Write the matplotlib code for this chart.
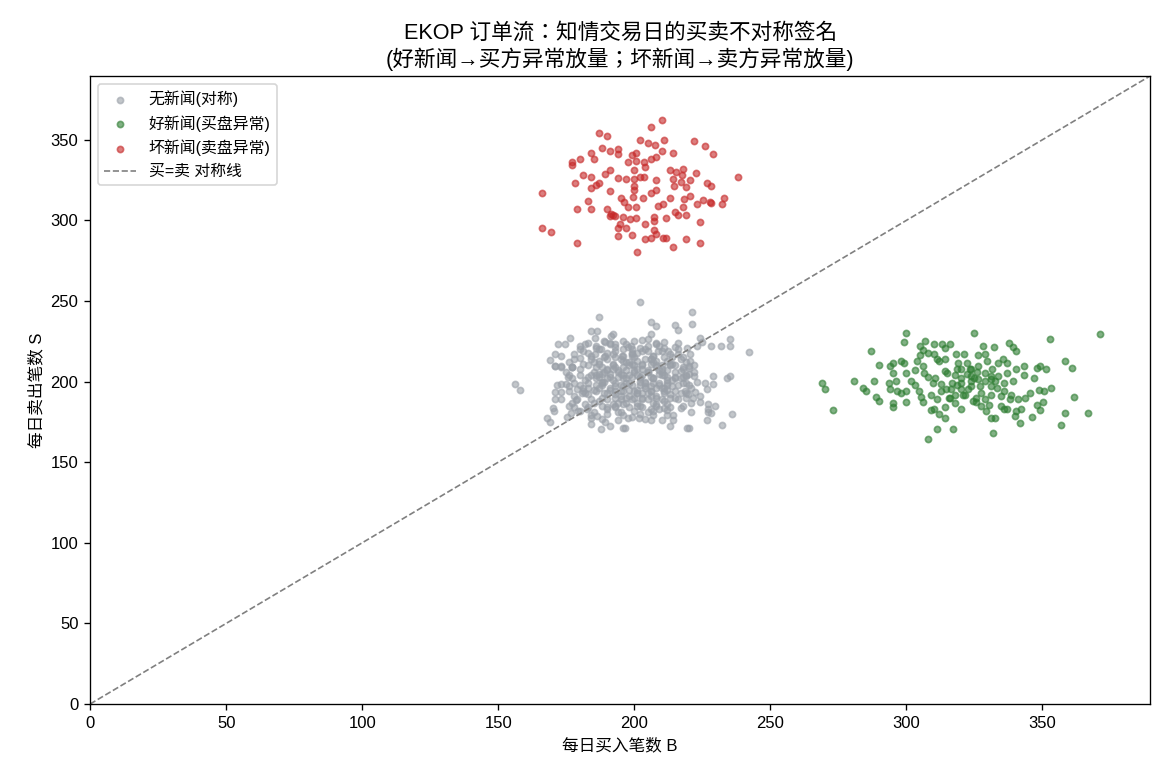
import matplotlib
matplotlib.use("Agg")
import matplotlib.pyplot as plt

plt.rcParams['font.family'] = ['Liberation Sans', 'Noto Sans CJK SC', 'DejaVu Sans']
plt.rcParams['axes.unicode_minus'] = False

# ---------------- data ----------------
# no news: buys B, sells S
gray_B = [187.2, 184.0, 186.2, 185.7, 176.2, 174.4, 172.0, 181.8, 189.1, 191.3, 192.3, 191.1, 192.8,
          170.8, 173.0, 169.1, 170.8, 173.2, 177.1, 180.1, 180.1, 183.0, 185.5, 187.9, 189.1, 195.3, 197.7,
          202.1, 221.2, 221.2, 206.0, 208.0, 214.8, 216.1, 206.0, 205.1, 208.0, 210.9, 216.1, 215.1, 224.2,
          224.9, 228.1, 232.0, 235.2, 235.2, 242.0, 219.2, 220.5, 222.9, 220.5, 220.0, 198.9, 202.1, 208.7,
          212.4, 216.1,
          156.1, 158.0, 170.8, 173.0, 177.1, 171.5, 173.2, 174.9, 175.7, 170.8, 173.2, 170.8, 173.0, 170.0,
          170.3, 167.8, 169.1, 175.9, 178.4, 178.9, 180.8, 175.2, 176.9, 179.3, 182.5, 184.0, 184.0, 187.9,
          189.1, 191.1, 196.0, 186.2,
          220.2, 217.3, 219.0, 222.0, 214.8, 228.8, 225.9, 228.8, 226.8, 233.9, 235.2, 219.0, 218.5, 219.7,
          222.2, 219.0, 221.5, 224.2, 224.2, 221.0, 217.3, 217.8, 227.1, 229.8, 227.1, 227.1, 228.3, 221.0,
          235.9, 214.1, 214.1, 213.1, 219.3, 220.2, 226.8, 232.2, 206.3, 210.9, 211.9, 197.7, 201.9, 196.5,
          214.8,
          180, 186, 193, 199, 205, 211,
          178, 184, 190, 196, 201, 207, 213,
          176, 181, 187, 192, 197, 203, 208, 214, 219,
          175, 180, 185, 190, 195, 200, 205, 210, 215, 220,
          177, 182, 187, 192, 197, 202, 207, 212, 217,
          176, 181, 186, 191, 196, 201, 206, 211, 216, 221,
          178, 183, 188, 193, 198, 203, 208, 213,
          177, 182, 187, 192, 197, 202, 207, 212,
          180, 185, 190, 195, 200, 205, 209,
          188, 194, 199, 204, 210,
          198, 203, 196, 206, 201, 194, 209, 199, 204, 193, 188, 184, 190, 205, 214, 218, 200, 189, 215, 211,
          183, 196, 208,
          181, 187, 193, 199, 204, 210, 216,
          178, 184, 189, 195, 200, 206, 211, 217,
          177, 183, 188, 193, 198, 203, 208, 213, 218, 222,
          176, 180, 186, 191, 196, 201, 206, 210, 215, 219,
          178, 183, 188, 193, 197, 202, 207, 212, 218, 223,
          176, 181, 186, 191, 196, 201, 206, 211, 217,
          179, 184, 190, 195, 200, 205, 210, 216,
          178, 183, 188, 193, 198, 203, 208, 213,
          184, 190, 196, 202, 207, 212,
          186, 192, 197, 203, 209, 185, 190, 196, 201, 207, 212, 218, 183, 188, 194, 199, 204, 209, 214, 220,
          182, 187, 193, 198, 203, 208, 213, 219, 185, 190, 196, 201, 206, 211, 199, 205, 195, 200, 210, 190,
          207, 193, 215, 180, 189, 204, 197, 202, 212, 206, 218, 194, 186, 222, 199, 212, 183, 208, 191, 203,
          187, 192, 198, 203, 208, 213, 189, 194, 200, 205, 210, 186, 191, 196, 202, 207, 212, 188, 193, 199,
          204, 209, 214, 190, 195, 201, 206, 211, 185, 197, 203, 208, 192, 198, 204, 210, 189, 195, 200, 206,
          212, 187, 193, 199, 205, 196, 201, 207, 194, 209]
gray_S = [239.8, 231.5, 231.5, 226.9, 226.9, 223.6, 223.6, 223.6, 224.8, 228.2, 229.4, 223.6, 221.5,
          217.0, 216.1, 213.2, 209.5, 209.5, 209.1, 219.9, 214.9, 217.8, 217.0, 219.9, 216.1, 215.7, 221.5,
          249.3, 243.1, 236.0, 236.9, 234.4, 234.8, 231.9, 229.8, 226.5, 223.2, 224.8, 224.0, 221.5, 226.9,
          224.8, 221.9, 221.9, 226.5, 221.9, 218.2, 220.7, 217.0, 221.9, 212.8, 209.5, 221.9, 221.1, 219.0,
          219.0, 217.4,
          198.3, 195.0, 209.5, 209.1, 209.1, 197.9, 198.7, 198.7, 202.9, 193.3, 193.3, 189.2, 189.2, 183.4,
          181.7, 177.6, 175.1, 185.0, 188.4, 195.4, 192.9, 178.0, 180.5, 181.7, 183.0, 177.6, 173.8, 170.5,
          175.1, 172.2, 171.4, 178.4,
          208.7, 206.6, 203.7, 203.7, 202.5, 203.3, 199.1, 198.3, 195.4, 202.0, 203.7, 199.1, 194.2, 192.1,
          193.3, 189.6, 189.6, 190.8, 187.5, 186.7, 183.8, 185.0, 185.9, 185.0, 183.0, 181.3, 180.5, 180.9,
          180.1, 179.2, 176.3, 172.6, 170.9, 170.9, 175.9, 173.0, 175.9, 183.4, 182.2, 177.6, 177.6, 171.4,
          190.0,
          222, 221, 223, 220, 222, 221,
          217, 216, 218, 216, 218, 216, 217,
          212, 211, 213, 211, 212, 210, 213, 211, 212,
          206, 208, 206, 207, 205, 207, 206, 208, 206, 205,
          202, 201, 203, 201, 202, 200, 202, 201, 202,
          197, 196, 198, 196, 197, 195, 197, 196, 198, 196,
          191, 192, 190, 192, 191, 193, 191, 192,
          187, 186, 188, 186, 187, 185, 187, 186,
          182, 181, 183, 181, 182, 181, 183,
          177, 176, 178, 177, 176,
          199, 204, 209, 211, 213, 203, 199, 189, 196, 194, 205, 204, 214, 219, 215, 208, 225, 225, 194, 204,
          224, 225, 224,
          219, 220, 219, 218, 220, 219, 220,
          214, 214, 215, 214, 215, 214, 215, 214,
          209, 210, 209, 209, 210, 208, 209, 210, 209, 210,
          204, 204, 204, 205, 204, 204, 203, 204, 203, 204,
          199, 199, 200, 199, 199, 198, 199, 198, 199, 200,
          194, 194, 194, 195, 194, 193, 194, 194, 193,
          189, 189, 189, 189, 190, 189, 189, 189,
          184, 184, 185, 184, 184, 184, 185, 184,
          179, 180, 179, 180, 179, 179,
          222, 217, 223, 219, 222, 212, 208, 213, 208, 212, 207, 215, 203, 199, 206, 203, 199, 205, 201, 198,
          193, 196, 190, 195, 190, 196, 190, 193, 187, 184, 186, 187, 183, 188, 211, 206, 198, 194, 210, 202,
          216, 215, 210, 198, 193, 214, 207, 202, 195, 191, 203, 187, 209, 206, 217, 213, 196, 186, 224, 226,
          211, 210, 212, 211, 210, 211, 206, 207, 206, 207, 206, 202, 203, 202, 203, 202, 203, 198, 197, 198,
          197, 198, 197, 193, 194, 193, 194, 193, 195, 190, 189, 190, 208, 204, 200, 196, 200, 191, 210, 214,
          199, 205, 185, 216, 193, 220, 185, 182, 181, 207]

# good news: abnormal buying
green_B = [268.9, 270.2, 273.1, 280.9, 284.1, 285.1, 287.1, 288.0, 289.0, 290.0, 290.0, 300.0, 299.1,
           294.9, 293.9, 294.9, 293.7, 296.1, 293.9, 296.4, 298.1, 300.0, 300.0, 300.0, 294.9, 294.9,
           298.1, 299.1, 301.8, 303.0, 303.2, 304.0, 304.9, 306.2, 306.9, 310.1, 313.0, 316.0, 314.0,
           307.9, 310.3, 311.3, 312.0, 304.9, 306.2, 306.6, 308.1, 309.8, 304.5, 305.4, 306.2, 309.1,
           311.3, 312.8, 314.5, 309.1, 310.3, 311.8, 314.0, 314.0, 311.1, 317.2, 307.9, 316.0, 316.7,
           317.7, 318.4, 318.2, 321.1, 319.1, 322.1, 323.3, 325.0, 326.2, 328.2, 328.9, 332.1, 329.7,
           331.6, 333.6, 335.5, 336.8, 337.7, 339.0, 340.2, 336.8, 339.0, 340.4, 343.1, 343.1, 347.0,
           347.8, 349.0, 351.2, 352.9, 358.1, 361.0, 353.2, 350.7, 348.8, 345.3, 343.4, 340.9, 338.0,
           338.5, 335.8, 334.8, 335.8, 337.0, 340.4, 339.9, 342.2, 341.9, 346.1, 347.8, 349.0, 350.2,
           358.1, 356.8, 361.7, 366.9, 371.0, 331.9, 330.2, 329.4, 331.1, 332.4, 324.5, 325.7, 325.7,
           319.9, 320.9, 322.6, 323.8, 325.0, 327.0, 328.7, 330.9, 332.4, 333.3, 331.1, 328.7, 318.4,
           320.1, 322.1, 323.8, 326.0, 321.4, 317.9, 315.5, 314.0, 315.0, 312.8, 310.6,
           323.8, 326.2, 328.7, 331.1, 320.1, 316.4, 320.1, 323.8, 327.5, 331.1, 333.6, 336.0, 326.2,
           314.0, 320.1, 334.8, 327.5, 317.7]
green_S = [199.3, 195.2, 182.4, 200.2, 196.0, 194.0, 218.8, 200.6, 190.2, 187.7, 210.1, 230.0, 224.6,
           211.8, 209.7, 205.6, 199.3, 200.2, 195.2, 194.0, 193.1, 194.0, 205.6, 187.3, 186.9, 184.0,
           213.0, 211.8, 200.2, 198.1, 207.2, 213.0, 222.1, 219.6, 225.0, 223.4, 223.4, 223.0, 220.9,
           218.0, 217.2, 213.8, 212.6, 216.3, 209.7, 205.6, 202.7, 199.3, 194.0, 190.6, 187.3, 191.9,
           189.0, 194.4, 195.2, 182.4, 183.2, 179.9, 184.0, 177.4, 170.3, 170.8, 164.1, 189.8, 199.3,
           204.3, 207.6, 216.8, 216.8, 211.8, 211.8, 207.6, 230.0, 216.3, 222.1, 217.2, 221.3, 212.6,
           207.6, 211.8, 213.8, 211.8, 223.8, 221.7, 218.8, 205.6, 200.2, 207.6, 209.7, 204.3, 202.3,
           208.5, 209.7, 207.6, 226.3, 213.0, 208.5, 196.0, 194.0, 194.8, 193.1, 189.8, 189.0, 189.0,
           191.9, 194.0, 184.8, 183.2, 182.8, 181.5, 178.6, 182.8, 174.1, 177.8, 185.7, 182.4, 187.3,
           180.3, 172.8, 190.6, 180.3, 229.2, 167.9, 185.3, 181.9, 177.4, 177.4, 187.7, 189.8, 187.3,
           182.8, 191.5, 195.2, 200.2, 202.3, 197.3, 200.6, 203.5, 200.2, 196.0, 191.9, 189.0, 198.1,
           202.3, 204.7, 203.5, 206.0, 191.9, 191.9, 189.8, 206.4, 205.6, 198.5, 202.3,
           207.6, 209.7, 205.6, 201.4, 199.3, 195.2, 195.2, 197.3, 193.1, 197.3, 203.5, 199.3, 201.4,
           213.8, 207.6, 191.1, 184.8, 186.9]

# bad news: abnormal selling
red_B = [210.2, 206.0, 187.1, 190.0, 210.9, 221.9, 202.0, 204.9, 207.6, 225.9, 188.0, 191.0, 193.9,
         193.9, 210.2, 214.2, 228.8, 184.1, 180.1, 185.2, 177.1, 177.1, 199.1, 200.8, 197.8, 200.8,
         203.7, 206.0, 208.1, 204.0, 199.8, 213.0, 215.5, 217.9, 217.7, 222.8, 191.1, 189.1, 181.2,
         184.1, 178.2, 187.1, 186.1, 184.1, 193.9, 197.1, 199.8, 202.0, 203.6, 208.1, 214.2, 217.2,
         220.4, 219.1, 226.8, 228.3, 238.0, 166.1, 191.1, 200.0, 200.0, 208.1, 206.2, 203.2, 199.5,
         195.1, 196.1, 197.8, 200.8, 182.9, 213.0, 210.6, 208.8, 214.5, 220.4, 218.4, 225.2, 228.3,
         233.1, 232.1, 223.0, 217.9, 179.0, 184.1, 190.0, 191.5, 192.9, 195.9, 198.3, 200.8, 207.1,
         207.1, 211.8, 215.0, 215.9, 219.1, 224.3, 227.7, 204.0, 194.6, 193.9, 197.1, 166.0, 169.2,
         199.3, 193.9, 207.1, 208.1, 210.6, 211.8, 204.0, 206.2, 219.1, 214.2, 224.3, 179.0, 201.0,
         192.2, 191.0]
red_S = [362.3, 358.1, 354.4, 352.5, 350.0, 349.2, 349.6, 348.2, 346.5, 346.1, 344.8, 342.8, 344.0,
         341.3, 343.2, 341.5, 341.1, 341.5, 338.2, 338.0, 336.1, 334.1, 340.3, 341.5, 336.1, 336.6,
         336.1, 337.8, 339.0, 332.8, 331.2, 331.2, 329.9, 331.6, 327.9, 329.5, 331.2, 328.7, 328.3,
         326.6, 323.3, 323.3, 322.0, 320.0, 326.2, 325.4, 325.8, 326.6, 327.0, 325.0, 325.8, 323.7,
         325.0, 320.8, 323.3, 321.6, 326.8, 317.1, 318.3, 321.2, 318.7, 318.7, 316.7, 313.7, 314.6,
         313.7, 311.3, 308.4, 308.4, 312.1, 313.7, 310.0, 308.8, 321.6, 315.0, 313.4, 312.5, 310.9,
         313.8, 310.0, 310.0, 308.4, 307.1, 307.1, 307.1, 303.8, 303.0, 302.2, 300.9, 301.7, 302.2,
         299.7, 301.3, 305.1, 303.4, 303.4, 298.8, 311.3, 298.0, 297.6, 295.5, 295.5, 295.5, 293.0,
         291.0, 290.2, 293.9, 291.8, 289.3, 288.9, 288.5, 288.9, 288.5, 283.5, 286.0, 286.0, 280.6,
         303.4, 303.0]

# ---------------- plot ----------------
fig, ax = plt.subplots(figsize=(9.75, 6.5), dpi=120)
fig.subplots_adjust(left=0.077, right=0.983, top=0.9026, bottom=0.0974)

ax.scatter(gray_B, gray_S, s=14, color='#9aa0a8', alpha=0.6, label='无新闻(对称)')
ax.scatter(green_B, green_S, s=14, color='#2e7d32', alpha=0.6, label='好新闻(买盘异常)')
ax.scatter(red_B, red_S, s=14, color='#c62828', alpha=0.6, label='坏新闻(卖盘异常)')

lim = max(max(gray_B), max(gray_S), max(green_B), max(green_S), max(red_B), max(red_S)) * 1.05
ax.plot([0, lim], [0, lim], '--', color='gray', lw=1, label='买=卖 对称线')
ax.set_xlim(0, lim)
ax.set_ylim(0, lim)

ax.set_xlabel('每日买入笔数 B', fontsize=10)
ax.set_ylabel('每日卖出笔数 S', fontsize=10)
ax.set_title('EKOP 订单流：知情交易日的买卖不对称签名\n(好新闻→买方异常放量；坏新闻→卖方异常放量)',
             fontsize=13, family=['Liberation Sans', 'Noto Sans CJK TC', 'DejaVu Sans'])
ax.legend(loc='upper left', fontsize=9.5)

fig.savefig('out.png', dpi=120)
